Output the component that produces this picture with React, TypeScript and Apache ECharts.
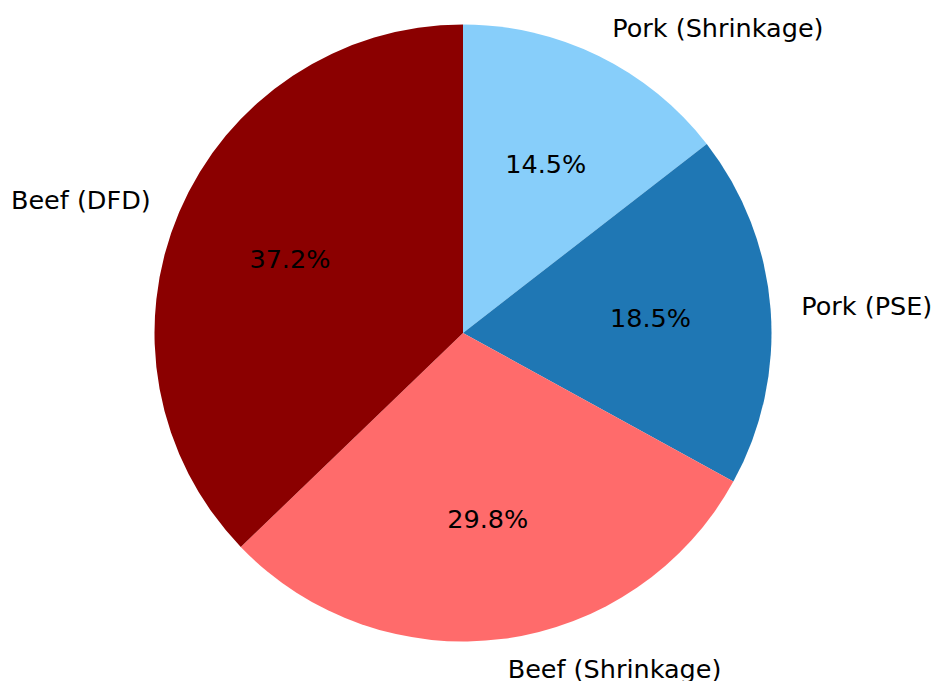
import React, { useEffect, useRef } from "react";
import * as echarts from "echarts";

const categories = ["Pork (Shrinkage)", "Pork (PSE)", "Beef (Shrinkage)", "Beef (DFD)"];
const values = [14.5, 18.5, 29.8, 37.2];
const colors = ["#87CEFA", "#1F77B4", "#FF6B6B", "#8B0000"];

const CX = 463;
const CY = 333;
const R = 308.5;
const FONT = "DejaVu Sans";
const FS = 25.5;

export default function App() {
  const ref = useRef<HTMLDivElement>(null);
  useEffect(() => {
    if (!ref.current) return;
    const chart = echarts.init(ref.current, undefined, { renderer: "svg" });
    const data = categories.map((name, i) => ({
      name,
      value: values[i],
      itemStyle: { color: colors[i] },
    }));
    chart.setOption({
      animation: false,
      backgroundColor: "#ffffff",
      series: [
        {
          type: "pie",
          center: [CX, CY],
          radius: [0, R],
          startAngle: 90,
          clockwise: true,
          avoidLabelOverlap: false,
          silent: true,
          itemStyle: { borderWidth: 0 },
          label: {
            show: true,
            position: "outside",
            formatter: "{b}",
            fontFamily: FONT,
            fontSize: FS,
            color: "#000",
            distanceToLabelLine: 0,
          },
          labelLine: { show: false, length: R * 0.1, length2: 0 },
          data,
        },
        {
          type: "pie",
          center: [CX, CY],
          radius: [0, R * 1.2],
          startAngle: 90,
          clockwise: true,
          avoidLabelOverlap: false,
          silent: true,
          itemStyle: { color: "rgba(0,0,0,0)", borderWidth: 0 },
          label: {
            show: true,
            position: "inside",
            formatter: (p: any) => p.percent.toFixed(1) + "%",
            fontFamily: FONT,
            fontSize: FS,
            color: "#000",
          },
          labelLine: { show: false },
          data: categories.map((name, i) => ({
            name,
            value: values[i],
            itemStyle: { color: "rgba(0,0,0,0)" },
          })),
        },
      ],
    });
    return () => chart.dispose();
  }, []);
  return (
    <div
      ref={ref}
      style={{ position: "fixed", left: 0, top: 0, width: 933, height: 681 }}
    />
  );
}
